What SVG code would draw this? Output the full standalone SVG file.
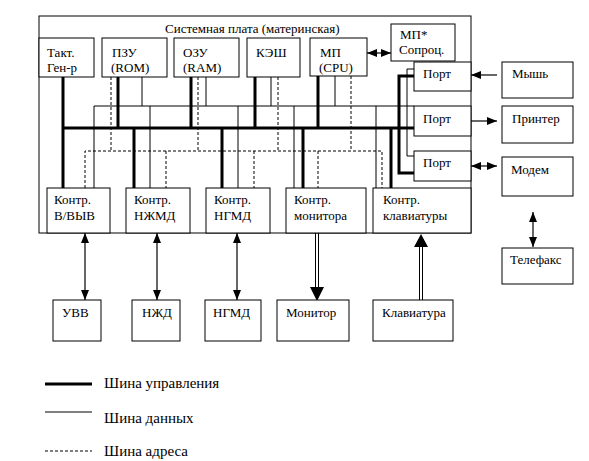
<svg xmlns="http://www.w3.org/2000/svg" width="589" height="461" viewBox="0 0 589 461">
<defs>
<marker id="ah" markerUnits="userSpaceOnUse" markerWidth="10" markerHeight="8" refX="10" refY="4" orient="auto-start-reverse"><path d="M0,0 L10,4 L0,8 z" fill="#000"/></marker>
</defs>
<style>
text{font-family:"Liberation Serif","Times New Roman",serif;font-size:13px;fill:#000}
.lg{font-size:15px}
.box{fill:#fff;stroke:#000;stroke-width:1}
.thick{fill:none;stroke:#000;stroke-width:3}
.thin{fill:none;stroke:#000;stroke-width:1}
.dash{fill:none;stroke:#000;stroke-width:1;stroke-dasharray:3,2}
.arr{fill:none;stroke:#000;stroke-width:1.2;marker-start:url(#ah);marker-end:url(#ah)}
.arr1{fill:none;stroke:#000;stroke-width:1.2;marker-end:url(#ah)}
</style>
<rect width="589" height="461" fill="#fff"/>
<g id="board"><rect class="box" x="39" y="16" width="432" height="217"/><text x="165" y="33">Системная плата (материнская)</text></g>
<g id="connectors">
<path class="thick" d="M63,77V188M63,128H414M118,77V128M191,77V128M255,77V128M318,76V128M134,128V188M222,128V188M303,128V188M391,128V188M414,76H399V173H414"/>
<path class="thin" d="M94,188V106H414M142,77V106M206,77V106M271,77V106M335,76V106M150,106V188M238,106V188M294,106V188M376,106V188M414,69H407V156H414"/>
<path class="dash" d="M85,188V151H382V188M111,77V151M198,77V151M278,77V151M351,76V151M166,151V188M254,151V188M318,151V188"/>
<path class="arr" d="M367,53H391"/>
<path class="arr1" d="M497,75H471"/>
<path class="arr1" d="M471,121H497"/>
<path class="arr" d="M471,166H497"/>
<path class="arr" d="M533,212V247"/>
<path class="arr" d="M85,233V300"/>
<path class="arr" d="M157,233V300"/>
<path class="arr" d="M237,233V300"/>
<path class="thin" d="M315.5,233V288M318.5,233V288M419.5,300V246M422.5,300V246"/>
<path d="M310,287L324,287L317,301z M414,247L428,247L421,234z" fill="#000"/>
</g>
<g id="gen"><rect class="box" x="39" y="38" width="55" height="39"/><text x="47" y="57">Такт.</text><text x="47" y="72">Ген-р</text></g>
<g id="rom"><rect class="box" x="102" y="38" width="65" height="39"/><text x="112" y="57">ПЗУ</text><text x="111" y="72">(ROM)</text></g>
<g id="ram"><rect class="box" x="174" y="38" width="65" height="39"/><text x="183" y="57">ОЗУ</text><text x="183" y="72">(RAM)</text></g>
<g id="cache"><rect class="box" x="247" y="38" width="53" height="39"/><text x="256" y="57">КЭШ</text></g>
<g id="cpu"><rect class="box" x="310" y="38" width="57" height="38"/><text x="320" y="57">МП</text><text x="319" y="72">(CPU)</text></g>
<g id="copro"><rect class="box" x="391" y="24" width="64" height="37"/><text x="400" y="39">МП*</text><text x="399" y="54">Сопроц.</text></g>
<g id="port1"><rect class="box" x="414" y="62" width="57" height="29"/><text x="423" y="78">Порт</text></g>
<g id="port2"><rect class="box" x="414" y="106" width="57" height="30"/><text x="423" y="123">Порт</text></g>
<g id="port3"><rect class="box" x="414" y="151" width="57" height="30"/><text x="423" y="167">Порт</text></g>
<g id="kio"><rect class="box" x="47" y="188" width="63" height="45"/><text x="54" y="204">Контр.</text><text x="54" y="220">В/ВЫВ</text></g>
<g id="khdd"><rect class="box" x="126" y="188" width="64" height="45"/><text x="134" y="204">Контр.</text><text x="134" y="220">НЖМД</text></g>
<g id="kfdd"><rect class="box" x="206" y="188" width="64" height="45"/><text x="214" y="204">Контр.</text><text x="214" y="220">НГМД</text></g>
<g id="kmon"><rect class="box" x="286" y="188" width="80" height="45"/><text x="294" y="204">Контр.</text><text x="294" y="220">монитора</text></g>
<g id="kkbd"><rect class="box" x="373" y="188" width="98" height="45"/><text x="383" y="204">Контр.</text><text x="383" y="220">клавиатуры</text></g>
<g id="mouse"><rect class="box" x="502" y="62" width="71" height="36"/><text x="512" y="78">Мышь</text></g>
<g id="printer"><rect class="box" x="502" y="106" width="71" height="37"/><text x="512" y="123">Принтер</text></g>
<g id="modem"><rect class="box" x="502" y="157" width="71" height="39"/><text x="511" y="174">Модем</text></g>
<g id="fax"><rect class="box" x="502" y="248" width="71" height="36"/><text x="510" y="264">Телефакс</text></g>
<g id="uvv"><rect class="box" x="53" y="300" width="48" height="41"/><text x="62" y="317">УВВ</text></g>
<g id="nzhd"><rect class="box" x="132" y="300" width="48" height="41"/><text x="142" y="317">НЖД</text></g>
<g id="ngmd"><rect class="box" x="205" y="300" width="56" height="41"/><text x="213" y="317">НГМД</text></g>
<g id="monitor"><rect class="box" x="277" y="300" width="72" height="41"/><text x="286" y="317">Монитор</text></g>
<g id="kbd"><rect class="box" x="373" y="300" width="80" height="41"/><text x="382" y="317">Клавиатура</text></g>
<g id="legend">
<path class="thick" d="M45,384H92"/><text class="lg" x="104" y="388">Шина управления</text>
<path class="thin" d="M45,412H92"/><text class="lg" x="104" y="423">Шина данных</text>
<path class="dash" d="M45,451H92"/><text class="lg" x="104" y="456">Шина адреса</text>
</g>
</svg>
